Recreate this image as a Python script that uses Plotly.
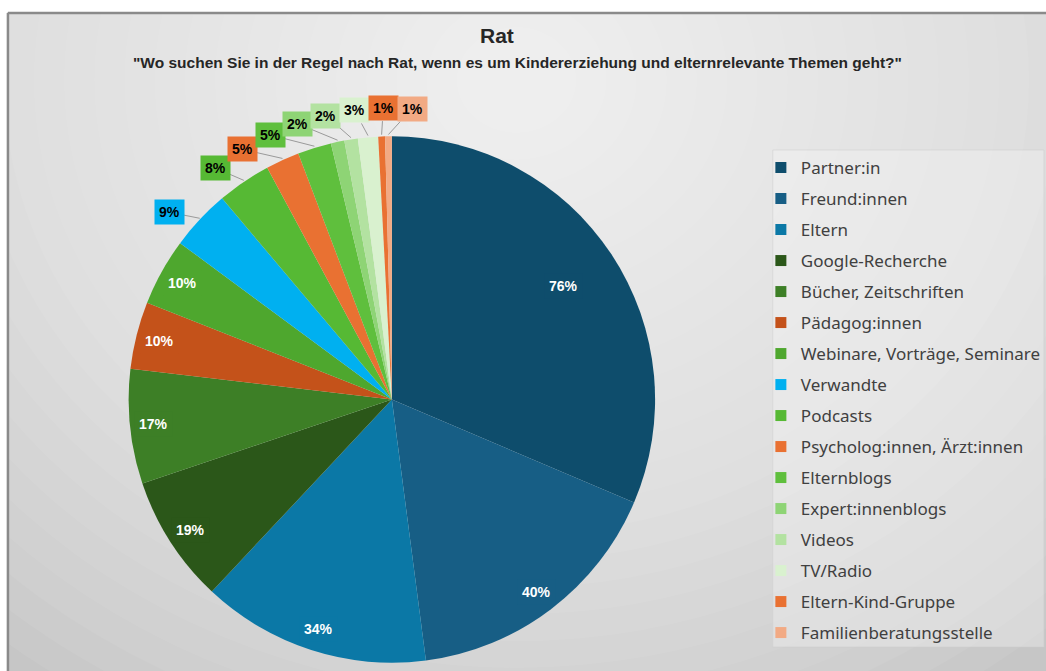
import math
import plotly.graph_objects as go

# ---------------- data ----------------
categories = [
    "Partner:in", "Freund:innen", "Eltern", "Google-Recherche",
    "Bücher, Zeitschriften", "Pädagog:innen", "Webinare, Vorträge, Seminare",
    "Verwandte", "Podcasts", "Psycholog:innen, Ärzt:innen", "Elternblogs",
    "Expert:innenblogs", "Videos", "TV/Radio", "Eltern-Kind-Gruppe",
    "Familienberatungsstelle",
]
values = [76, 40, 34, 19, 17, 10, 10, 9, 8, 5, 5, 2, 2, 3, 1, 1]
label_texts = [f"{v}%" for v in values]

title_text = "Rat"
subtitle_text = '"Wo suchen Sie in der Regel nach Rat, wenn es um Kindererziehung und elternrelevante Themen geht?"'

colors = [
    "#0e4d6c", "#175e85", "#0b78a6", "#2b5719", "#3d7f26", "#c4521a",
    "#4ea72e", "#00b0f0", "#56b934", "#e97132", "#5fbf3d", "#8ed475",
    "#b3e2a1", "#d9f1cf", "#e97132", "#f2aa84",
]

# ---------------- geometry ----------------
W, H = 1046, 671
CX, CY, R = 394.5, 399.5, 265
LABEL_R = 1.10 * R


def px(x, y):
    return x / W, 1 - y / H


total = sum(values)
mids = []
cum = 0
for v in values:
    mids.append((cum + v / 2) / total * 360)
    cum += v


def box_w(t):
    return len(t) * 8.0 + 10


def spread(angles, gaps):
    # isotonic (PAVA) placement keeping minimum angular gaps
    offs = [0]
    for g in gaps:
        offs.append(offs[-1] + g)
    target = [a - o for a, o in zip(angles, offs)]
    blocks = []
    for t in target:
        blocks.append([t, 1])
        while len(blocks) > 1 and blocks[-2][0] / blocks[-2][1] > blocks[-1][0] / blocks[-1][1]:
            s, c = blocks.pop()
            blocks[-1][0] += s
            blocks[-1][1] += c
    q = []
    for s, c in blocks:
        q += [s / c] * c
    return [qq + o for qq, o in zip(q, offs)]


inside_idx = [i for i, v in enumerate(values) if v >= 10]
outside_idx = [i for i, v in enumerate(values) if v < 10]
gaps = []
for a, b in zip(outside_idx[:-1], outside_idx[1:]):
    th = math.radians((mids[a] + mids[b]) / 2)
    w = (box_w(label_texts[a]) + box_w(label_texts[b])) / 2 + 3
    h = 30
    c, s = abs(math.cos(th)), abs(math.sin(th))
    need = min(w / c if c > 1e-6 else 1e9, h / s if s > 1e-6 else 1e9)
    gaps.append(math.degrees(need / LABEL_R))
out_angles = [a - 3.2 for a in spread([mids[i] for i in outside_idx], gaps)]

fig = go.Figure()

fig.add_trace(go.Pie(
    labels=categories, values=values, sort=False, direction="clockwise",
    rotation=0, marker=dict(colors=colors, line=dict(width=0)),
    textinfo="none", hoverinfo="label+value", showlegend=False,
    domain=dict(x=[(CX - R) / W, (CX + R) / W], y=[1 - (CY + R) / H, 1 - (CY - R) / H]),
))

# legend entries
for i, c in enumerate(categories):
    fig.add_trace(go.Scatter(
        x=[None], y=[None], mode="markers", name=c,
        marker=dict(symbol="square", size=11, color=colors[i]),
        legendgroup=f"g{i}", showlegend=True, hoverinfo="skip",
    ))

annotations = []
shapes = []

# background (radial light-grey gradient approximation)
shapes.append(dict(type="rect", xref="paper", yref="paper", x0=0, x1=1.01, y0=-0.01, y1=1.01,
                   fillcolor="#c6c6c6", line=dict(width=0), layer="below"))
GX, GY = 520, 80
N = 26
RMAX = 820
for k in range(N):
    rx = RMAX - k * ((RMAX - 30) / N)
    ry = rx * 0.88
    x0, y0 = px(GX - rx, GY - ry)
    x1, y1 = px(GX + rx, GY + ry)
    shapes.append(dict(type="circle", xref="paper", yref="paper", x0=x0, x1=x1, y0=y1, y1=y0,
                       fillcolor="rgba(255,255,255,0.06)", line=dict(width=0), layer="below"))
# legend panel
lx0, ly0 = px(778, 150)
lx1, ly1 = px(W + 5, 647)
shapes.append(dict(type="rect", xref="paper", yref="paper", x0=lx0, x1=lx1, y0=ly1, y1=ly0,
                   fillcolor="rgba(245,245,245,0.35)", line=dict(color="rgba(205,205,205,0.5)", width=1),
                   layer="below"))
# white outer margin + frame
shapes.append(dict(type="rect", xref="paper", yref="paper", x0=0, x1=1.01, y0=1 - 12 / H, y1=1.01,
                   fillcolor="white", line=dict(width=0), layer="below"))
shapes.append(dict(type="rect", xref="paper", yref="paper", x0=-0.01, x1=7 / W, y0=-0.01, y1=1.01,
                   fillcolor="white", line=dict(width=0), layer="below"))
shapes.append(dict(type="line", xref="paper", yref="paper", x0=8 / W, x1=1.01, y0=1 - 13 / H, y1=1 - 13 / H,
                   line=dict(color="#8a8a8a", width=2.5), layer="below"))
shapes.append(dict(type="line", xref="paper", yref="paper", x0=8 / W, x1=8 / W, y0=-0.01, y1=1 - 13 / H,
                   line=dict(color="#8a8a8a", width=2.5), layer="below"))

label_font = "Liberation Sans, Arial, sans-serif"

# inside labels
for i in inside_idx:
    frac = 0.78 if values[i] / total > 0.25 else 0.91
    a = math.radians(mids[i])
    x = CX + frac * R * math.sin(a)
    y = CY - frac * R * math.cos(a)
    xp, yp = px(x, y)
    annotations.append(dict(x=xp, y=yp, xref="paper", yref="paper", showarrow=False,
                            text=f"<b>{label_texts[i]}</b>",
                            font=dict(family=label_font, size=14, color="white"),
                            bgcolor=colors[i], borderpad=4, xanchor="center", yanchor="middle"))

# outside labels + leader lines
for i, ang in zip(outside_idx, out_angles):
    a = math.radians(ang)
    x = CX + LABEL_R * math.sin(a)
    y = CY - LABEL_R * math.cos(a)
    xp, yp = px(x, y)
    annotations.append(dict(x=xp, y=yp, xref="paper", yref="paper", showarrow=False,
                            text=f"<b>{label_texts[i]}</b>",
                            font=dict(family=label_font, size=14, color="black"),
                            bgcolor=colors[i], borderpad=4, xanchor="center", yanchor="middle"))
    am = math.radians(mids[i])
    ex = CX + R * math.sin(am)
    ey = CY - R * math.cos(am)
    dx, dy = ex - x, ey - y
    hw = box_w(label_texts[i]) / 2
    hh = 13
    t = min(hw / abs(dx) if dx else 1e9, hh / abs(dy) if dy else 1e9)
    if t < 1:
        sx, sy = x + t * dx, y + t * dy
        a0 = px(sx, sy)
        a1 = px(ex, ey)
        shapes.append(dict(type="line", xref="paper", yref="paper", x0=a0[0], y0=a0[1], x1=a1[0], y1=a1[1],
                           line=dict(color="#9a9a9a", width=1), layer="above"))

# titles
tx, ty = px(500, 35)
annotations.append(dict(x=tx, y=ty, xref="paper", yref="paper", showarrow=False,
                        text=f"<b>{title_text}</b>",
                        font=dict(family="Liberation Sans, Arial, sans-serif", size=21, color="#262626"),
                        xanchor="center", yanchor="middle"))
sx_, sy_ = px(521, 62)
annotations.append(dict(x=sx_, y=sy_, xref="paper", yref="paper", showarrow=False,
                        text=f"<b>{subtitle_text}</b>",
                        font=dict(family="Liberation Sans, Arial, sans-serif", size=15.5, color="#262626"),
                        xanchor="center", yanchor="middle"))

lgx, lgy = px(766, 150)
fig.update_layout(
    width=W, height=H, margin=dict(l=0, r=0, t=0, b=0),
    paper_bgcolor="white", plot_bgcolor="rgba(0,0,0,0)",
    xaxis=dict(visible=False), yaxis=dict(visible=False),
    legend=dict(x=lgx, y=lgy, xanchor="left", yanchor="top", bgcolor="rgba(0,0,0,0)",
                font=dict(family="Noto Sans, sans-serif", size=17, color="#404040"),
                tracegroupgap=5.9, traceorder="grouped"),
    shapes=shapes, annotations=annotations,
)

fig.write_html("out.html")
